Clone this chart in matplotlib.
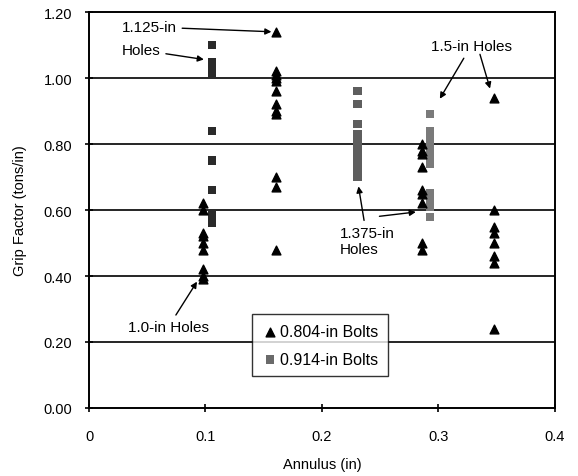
import matplotlib.pyplot as plt

plt.rcParams["font.family"] = ["Liberation Sans", "DejaVu Sans"]

# annulus = (hole - bolt) / 2
tri_x_100 = 0.098
tri_y_100 = [0.62, 0.60, 0.53, 0.52, 0.50, 0.48, 0.42, 0.40, 0.39]
tri_x_1125 = 0.1605
tri_y_1125 = [1.14, 1.02, 1.01, 1.00, 0.99, 0.96, 0.92, 0.90, 0.89, 0.70, 0.67, 0.48]
tri_x_1375 = 0.2855
tri_y_1375 = [0.80, 0.78, 0.77, 0.73, 0.66, 0.65, 0.62, 0.50, 0.48]
tri_x_150 = 0.348
tri_y_150 = [0.94, 0.60, 0.55, 0.53, 0.50, 0.46, 0.44, 0.24]

sq_x_1125 = 0.1055
sq_y_1125 = [1.10, 1.05, 1.04, 1.03, 1.02, 1.01, 0.84, 0.75, 0.66, 0.59, 0.57, 0.56]
sq_x_1375 = 0.2305
sq_y_1375 = [0.96, 0.92, 0.86, 0.83, 0.81, 0.79, 0.77, 0.75, 0.73, 0.71, 0.70]
sq_x_150 = 0.293
sq_y_150 = [0.89, 0.84, 0.82, 0.80, 0.78, 0.76, 0.74, 0.65, 0.63, 0.61, 0.58]

tri_x = ([tri_x_100] * len(tri_y_100) + [tri_x_1125] * len(tri_y_1125)
         + [tri_x_1375] * len(tri_y_1375) + [tri_x_150] * len(tri_y_150))
tri_y = tri_y_100 + tri_y_1125 + tri_y_1375 + tri_y_150
sq_x = ([sq_x_1125] * len(sq_y_1125) + [sq_x_1375] * len(sq_y_1375)
        + [sq_x_150] * len(sq_y_150))
sq_y = sq_y_1125 + sq_y_1375 + sq_y_150
# scan makes the first column look darker
sq_col = (["#2a2a2a"] * len(sq_y_1125) + ["#5e5e5e"] * len(sq_y_1375)
          + ["#7a7a7a"] * len(sq_y_150))

fig = plt.figure(figsize=(5.78, 4.77), dpi=100)
ax = fig.add_axes([0.154, 0.1426, 0.806, 0.830])

for v in [0.2, 0.4, 0.6, 0.8, 1.0]:
    ax.axhline(v, color="black", lw=1.2, zorder=1)

ax.scatter(tri_x, tri_y, marker="^", s=40, color="black", zorder=3,
           label="0.804-in Bolts")
ax.scatter(sq_x, sq_y, marker="s", s=34, c=sq_col, edgecolor="none",
           zorder=2, label="0.914-in Bolts")

ax.set_xlim(0, 0.4)
ax.set_ylim(0, 1.2)
ax.set_xticks([0, 0.1, 0.2, 0.3, 0.4])
ax.set_xticklabels(["0", "0.1", "0.2", "0.3", "0.4"])
ax.set_yticks([0, 0.2, 0.4, 0.6, 0.8, 1.0, 1.2])
ax.set_yticklabels(["%.2f" % t for t in ax.get_yticks()])
ax.tick_params(direction="inout", length=6, width=1.2, labelsize=10.5)
ax.tick_params(axis="x", pad=12)
ax.tick_params(axis="y", pad=9)
for sp in ax.spines.values():
    sp.set_linewidth(1.4)

ax.set_xlabel("Annulus (in)", fontsize=10.5, labelpad=10)
ax.set_ylabel("Grip Factor (tons/in)", fontsize=10.5, labelpad=12)

fs = 11
arr = dict(arrowstyle="-|>", color="black", lw=1.0, mutation_scale=9)
ax.annotate("1.125-in", xy=(0.159, 1.14), xytext=(0.028, 1.155), fontsize=fs,
            arrowprops=arr, va="center")
ax.annotate("Holes", xy=(0.101, 1.055), xytext=(0.028, 1.085), fontsize=fs,
            arrowprops=arr, va="center")
ax.annotate("1.5-in Holes", xy=(0.3, 0.93), xytext=(0.328, 1.097), fontsize=fs,
            ha="center", arrowprops=arr, va="center")
ax.annotate("", xy=(0.345, 0.96), xytext=(0.335, 1.08), arrowprops=arr)
ax.annotate("1.375-in\nHoles", xy=(0.231, 0.68), xytext=(0.2155, 0.506),
            fontsize=fs, ha="left", va="center", arrowprops=arr)
ax.annotate("", xy=(0.283, 0.595), xytext=(0.247, 0.58), arrowprops=arr)
ax.annotate("1.0-in Holes", xy=(0.094, 0.39), xytext=(0.068, 0.245),
            fontsize=fs, ha="center", va="center", arrowprops=arr)

leg = ax.legend(loc="lower left", bbox_to_anchor=(0.333, 0.06), fontsize=11.5,
                frameon=True, fancybox=False, handletextpad=0.15,
                handlelength=1.0, borderpad=0.6, labelspacing=0.8)
leg.get_frame().set_edgecolor("black")
leg.get_frame().set_linewidth(1.0)
leg.legend_handles[1].set_facecolor("#6a6a6a")

fig.savefig("out.png", dpi=100)
